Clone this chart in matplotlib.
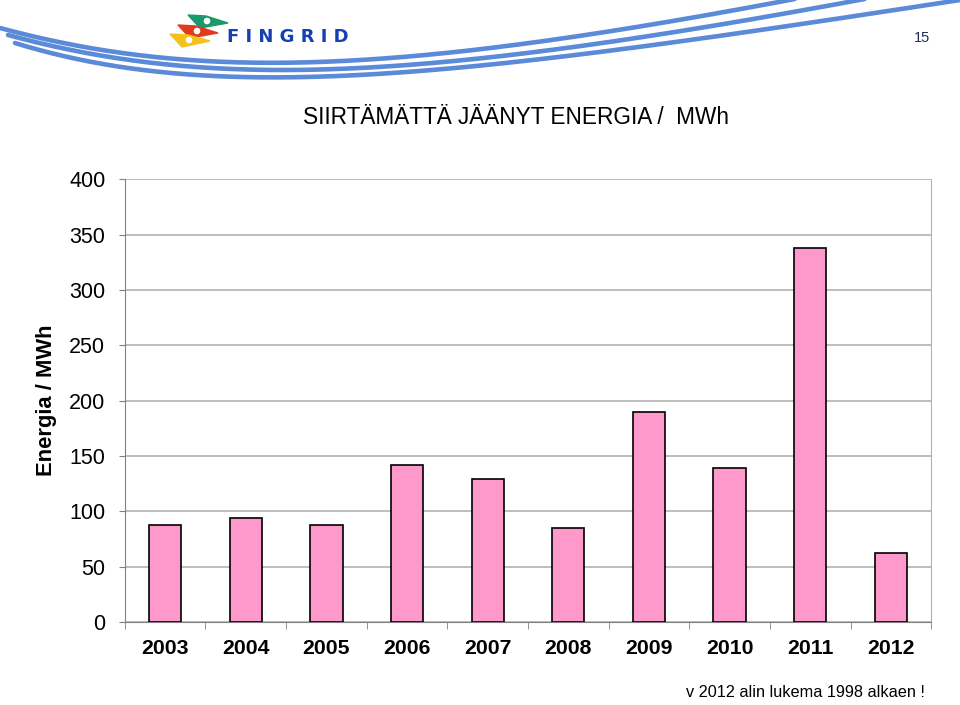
import numpy as np
import matplotlib.pyplot as plt
from matplotlib.patches import Polygon, Circle

# data
years = ['2003', '2004', '2005', '2006', '2007', '2008', '2009', '2010', '2011', '2012']
energy_mwh = [88, 94, 88, 142, 129, 85, 190, 139, 338, 62]
y_ticks = [0, 50, 100, 150, 200, 250, 300, 350, 400]

fig = plt.figure(figsize=(9.6, 7.05), dpi=100)
fig.patch.set_facecolor('white')

# header decoration (full-figure overlay in pixel coords)
deco = fig.add_axes([0, 0, 1, 1], zorder=0)
deco.set_xlim(0, 960)
deco.set_ylim(705, 0)
deco.axis('off')


def bezier(p0, p1, p2, p3, n=200):
    t = np.linspace(0, 1, n)[:, None]
    pts = ((1 - t) ** 3 * np.array(p0) + 3 * (1 - t) ** 2 * t * np.array(p1)
           + 3 * (1 - t) * t ** 2 * np.array(p2) + t ** 3 * np.array(p3))
    return pts[:, 0], pts[:, 1]


swoosh = [
    ((0, 28), (200, 82), (400, 74), (800, -2)),
    ((8, 35), (210, 90), (420, 82), (870, -2)),
    ((15, 43), (220, 106), (460, 77), (960, 0)),
]
for p0, p1, p2, p3 in swoosh:
    xs, ys = bezier(p0, p1, p2, p3)
    deco.plot(xs, ys, color='#5a8ad8', lw=3.3, solid_capstyle='round')

flags = [
    ([(188, 15), (206, 16), (228, 23), (200, 28)], '#1a9a6a', (207, 21)),
    ([(178, 25), (196, 26), (218, 33), (190, 38)], '#e03a1e', (197, 31)),
    ([(170, 34), (188, 35), (210, 41), (182, 47)], '#f6c21a', (189, 40)),
]
for verts, col, dot in flags:
    deco.add_patch(Polygon(verts, closed=True, color=col))
    deco.add_patch(Circle(dot, 2.6, color='white'))
deco.text(227, 37, 'F I N G R I D', color='#1440b0', fontsize=13, fontweight='bold',
          va='center', ha='left', family='DejaVu Sans')
deco.text(922, 38, '15', fontsize=10.5, va='center', ha='center', color='#1f2f5f',
          family='Liberation Sans')

# main chart
ax = fig.add_axes([0.130, 0.1177, 0.840, 0.628], zorder=1)
ax.patch.set_alpha(0)
x = np.arange(len(years))
ax.bar(x, energy_mwh, width=0.4, color='#ff99cc', edgecolor='black', linewidth=1.2, zorder=3)

ax.set_xlim(-0.5, len(years) - 0.5)
ax.set_ylim(0, 400)
ax.set_yticks(y_ticks)
ax.set_yticklabels([str(v) for v in y_ticks], fontsize=15.5, family='Liberation Sans')
ax.yaxis.grid(True, color='#b3b3b3', linewidth=1.2, zorder=0)

ax.set_xticks(x)
ax.set_xticklabels(years, fontsize=15.3, fontweight='bold', family='Liberation Sans')
ax.tick_params(axis='x', length=0, pad=12)
ax.set_xticks(np.arange(-0.5, len(years)), minor=True)
ax.tick_params(axis='x', which='minor', length=5, color='#808080', direction='out')
ax.tick_params(axis='y', length=4, color='#808080', direction='out', pad=10)

for side in ['left', 'bottom']:
    ax.spines[side].set_color('#808080')
ax.spines['right'].set_color('#b3b3b3')
ax.spines['top'].set_visible(False)

ax.set_ylabel('Energia / MWh', fontsize=15.8, fontweight='bold', family='Liberation Sans', labelpad=9)

fig.text(0.5375, 0.833, 'SIIRTÄMÄTTÄ JÄÄNYT ENERGIA /  MWh', fontsize=16.3,
         ha='center', va='center', family='Liberation Sans')
fig.text(0.963, 0.018, 'v 2012 alin lukema 1998 alkaen !', fontsize=11.7,
         ha='right', va='center', family='Liberation Sans')

fig.savefig('out.png', dpi=100)
